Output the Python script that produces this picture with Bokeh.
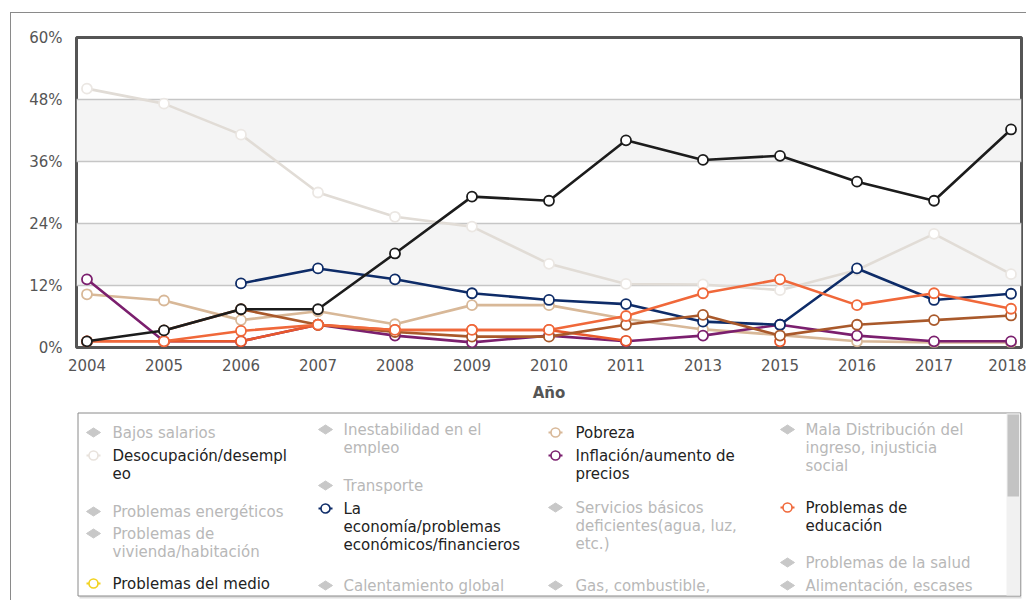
from bokeh.plotting import figure
from bokeh.models import Range1d, FixedTicker, PrintfTickFormatter
from bokeh.layouts import column
from bokeh.core.properties import value
from bokeh.embed import file_html
from bokeh.resources import INLINE

nan = float("nan")

# ---------------- data ----------------
years = ["2004", "2005", "2006", "2007", "2008", "2009", "2010",
         "2011", "2013", "2015", "2016", "2017", "2018"]

desocupacion = [50.1, 47.2, 41.2, 30.0, 25.3, 23.4, 16.2, 12.3, 12.2, 11.1, 15.0, 22.0, 14.2]
pobreza      = [10.3, 9.1, 5.3, 7.0, 4.5, 8.2, 8.2, 5.5, 3.5, 2.4, 1.2, 1.0, 1.0]
inflacion    = [13.2, 1.2, 1.2, 4.4, 2.3, 1.0, 2.3, 1.2, 2.3, 4.4, 2.3, 1.2, 1.2]
economia     = [nan, nan, 12.4, 15.3, 13.2, 10.5, 9.2, 8.4, 5.0, 4.4, 15.3, 9.2, 10.4]
serie_roja   = [1.2, 1.2, 1.2, 4.4, 3.4, 3.4, 3.4, 1.3, nan, 1.2, nan, nan, nan]
serie_cafe   = [nan, 3.3, 7.4, 4.4, 3.0, 2.1, 2.1, 4.4, 6.3, 2.3, 4.4, 5.3, 6.2]
educacion    = [1.2, 1.2, 3.2, 4.4, 3.4, 3.4, 3.4, 6.1, 10.5, 13.2, 8.2, 10.5, 7.5]
serie_negra  = [1.2, 3.3, 7.4, 7.4, 18.2, 29.2, 28.4, 40.1, 36.3, 37.1, 32.1, 28.4, 42.2]

y_ticks = [0, 12, 24, 36, 48, 60]

series = [
    (desocupacion, "#e1dcd6", "#ebe7e3"),
    (pobreza, "#d8b898", "#d8b898"),
    (inflacion, "#7b1f6e", "#7b1f6e"),
    (economia, "#0e2c68", "#0e2c68"),
    (serie_roja, "#e8582c", "#e8582c"),
    (serie_cafe, "#a9592b", "#a9592b"),
    (educacion, "#f0683a", "#f0683a"),
    (serie_negra, "#1c1c1c", "#1c1c1c"),
]

# legend: (text lines, column, first line y, colour or None if inactive)
legend_items = [
    (["Bajos salarios"], 0, 433, None),
    (["Desocupación/desempl", "eo"], 0, 456, "#e8e2dc"),
    (["Problemas energéticos"], 0, 512, None),
    (["Problemas de", "vivienda/habitación"], 0, 534, None),
    (["Problemas del medio"], 0, 584, "#f2d21e"),
    (["Inestabilidad en el", "empleo"], 1, 430, None),
    (["Transporte"], 1, 486, None),
    (["La", "economía/problemas", "económicos/financieros"], 1, 509, "#0e2c68"),
    (["Calentamiento global"], 1, 586, None),
    (["Pobreza"], 2, 433, "#d8b898"),
    (["Inflación/aumento de", "precios"], 2, 456, "#7b1f6e"),
    (["Servicios básicos", "deficientes(agua, luz,", "etc.)"], 2, 508, None),
    (["Gas, combustible,"], 2, 586, None),
    (["Mala Distribución del", "ingreso, injusticia", "social"], 3, 430, None),
    (["Problemas de", "educación"], 3, 508, "#f0683a"),
    (["Problemas de la salud"], 3, 563, None),
    (["Alimentación, escases"], 3, 586, None),
]

FONT = "DejaVu Sans"
x = list(range(len(years)))

# ---------------- chart ----------------
p = figure(width=1015, height=391, x_range=Range1d(-0.136, 12.136), y_range=Range1d(0, 60),
           output_backend="svg", toolbar_location=None,
           min_border_left=65, min_border_right=5, min_border_top=24, min_border_bottom=54)
p.background_fill_color = "white"
p.outline_line_color = "#555555"
p.outline_line_width = 3

p.xgrid.visible = False
p.ygrid.ticker = FixedTicker(ticks=y_ticks)
p.ygrid.grid_line_color = "#c6c6c6"
p.ygrid.grid_line_width = 1.5
p.ygrid.band_fill_color = "#f4f4f4"
p.ygrid.band_fill_alpha = 1.0

p.yaxis.ticker = FixedTicker(ticks=y_ticks)
p.yaxis.formatter = PrintfTickFormatter(format="%d%%")
p.xaxis.ticker = FixedTicker(ticks=x)
p.xaxis.major_label_overrides = {i: y for i, y in enumerate(years)}
for ax in (p.xaxis[0], p.yaxis[0]):
    ax.axis_line_color = None
    ax.major_tick_line_color = None
    ax.minor_tick_line_color = None
    ax.major_label_text_font = FONT
    ax.major_label_text_font_size = "15px"
    ax.major_label_text_color = "#555555"
p.yaxis.major_label_standoff = 8
p.xaxis.major_label_standoff = 5
p.xaxis.axis_label = "Año"
p.xaxis.axis_label_text_font = FONT
p.xaxis.axis_label_text_font_size = "15px"
p.xaxis.axis_label_text_font_style = "bold"
p.xaxis.axis_label_text_color = "#555555"
p.xaxis.axis_label_standoff = 10

for vals, lc, mc in series:
    p.line(x, vals, line_color=lc, line_width=2.6)
    p.scatter(x, vals, marker="circle", size=10, fill_color="white",
              line_color=mc, line_width=1.8)

# ---------------- legend panel ----------------
# frame of this panel is aligned with the chart frame (page x 76 .. 1021)
q = figure(width=1015, height=196, x_range=Range1d(76, 1021), y_range=Range1d(601, 405),
           output_backend="svg", toolbar_location=None,
           min_border=0, x_axis_location=None, y_axis_location=None)
q.grid.visible = False
q.outline_line_color = None
q.background_fill_color = "white"

# shadow, box, scrollbar
q.quad(left=[79], right=[1022], top=[415], bottom=[599], fill_color="#dedede", line_color=None)
q.quad(left=[77.5], right=[1020.3], top=[413.5], bottom=[596.5], fill_color="white",
       line_color="#8a8a8a", line_width=1)
q.quad(left=[1006], right=[1019.5], top=[414], bottom=[596], fill_color="#f1f1f1", line_color=None)
q.quad(left=[1007], right=[1018.5], top=[415], bottom=[497], fill_color="#c3c3c3", line_color=None)

icon_x = [93, 325, 555, 787]
text_x = [112, 343, 575, 805]
LH = 18.3
tx, ty, tt, tc = [], [], [], []
ix_on, iy_on, ic_on = [], [], []
dx, dy = [], []
for lines, col, y0, colr in legend_items:
    for k, ln in enumerate(lines):
        tx.append(text_x[col]); ty.append(y0 + k * LH); tt.append(ln)
        tc.append("#222222" if colr else "#b8b8b8")
    if colr:
        ix_on.append(icon_x[col]); iy_on.append(y0); ic_on.append(colr)
    else:
        cx = icon_x[col]
        dx.append([cx - 7, cx, cx + 7, cx])
        dy.append([y0, y0 - 4.5, y0, y0 + 4.5])

q.text(tx, ty, text=tt, text_color=tc, text_font=value(FONT), text_font_size="15px",
       text_baseline="middle", text_align="left")
q.segment(x0=[v - 7 for v in ix_on], y0=iy_on, x1=[v + 7 for v in ix_on], y1=iy_on,
          line_color=ic_on, line_width=2)
q.scatter(ix_on, iy_on, marker="circle", size=9, fill_color="white", line_color=ic_on,
          line_width=1.6)
q.patches(dx, dy, fill_color="#c8c8c8", line_color="#c8c8c8", line_width=1)

layout = column(p, q, styles={"position": "relative", "left": "10px", "top": "12px",
                              "border-top": "1px solid #8a8a8a",
                              "border-left": "1px solid #8a8a8a"})

open("out.html", "w").write(file_html(layout, INLINE))
